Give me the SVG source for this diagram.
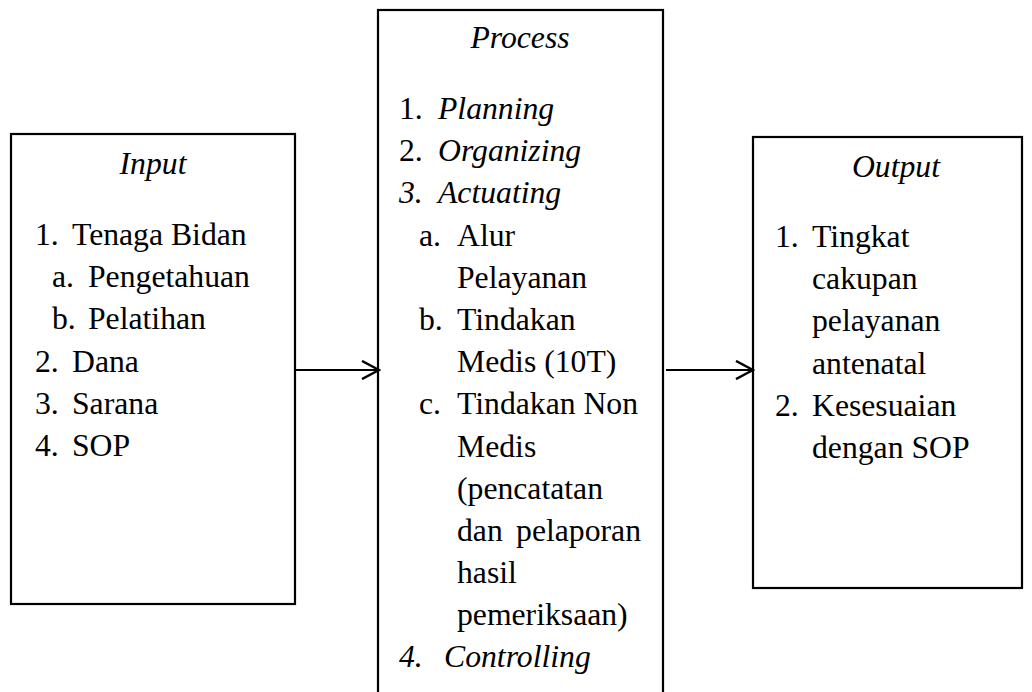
<svg xmlns="http://www.w3.org/2000/svg" width="1032" height="692" viewBox="0 0 1032 692">
<style>
.box{fill:#fff;stroke:#000;stroke-width:2.2}
.t{font-family:"Liberation Serif","Times New Roman",serif;font-size:31.7px;fill:#000}
.i{font-style:italic}
.c{text-anchor:middle}
.conn{stroke:#000;stroke-width:2.2;fill:none}
</style>
<defs>
<marker id="arr" viewBox="0 0 20 20" refX="18" refY="10" markerWidth="20" markerHeight="20" markerUnits="userSpaceOnUse" orient="auto">
<path d="M1,1 L18,10 L1,19" fill="none" stroke="#000" stroke-width="2.5"/>
</marker>
</defs>
<rect width="1032" height="692" fill="#fff"/>
<g id="input">
<rect class="box" x="11" y="134" width="284" height="470"/>
<text class="t i c" x="153" y="174">Input</text>
<text class="t" x="35" y="245">1.</text><text class="t" x="72" y="245">Tenaga Bidan</text>
<text class="t" x="52" y="287">a.</text><text class="t" x="88" y="287">Pengetahuan</text>
<text class="t" x="52" y="329">b.</text><text class="t" x="88" y="329">Pelatihan</text>
<text class="t" x="35" y="372">2.</text><text class="t" x="72" y="372">Dana</text>
<text class="t" x="35" y="414">3.</text><text class="t" x="72" y="414">Sarana</text>
<text class="t" x="35" y="456">4.</text><text class="t" x="72" y="456">SOP</text>
</g>
<g id="process">
<rect class="box" x="378" y="10" width="285" height="700"/>
<text class="t i c" x="520" y="48">Process</text>
<text class="t" x="399" y="119">1.</text><text class="t i" x="438" y="119">Planning</text>
<text class="t" x="399" y="161">2.</text><text class="t i" x="438" y="161">Organizing</text>
<text class="t i" x="399" y="203">3.</text><text class="t i" x="438" y="203">Actuating</text>
<text class="t" x="419" y="246">a.</text><text class="t" x="457" y="246">Alur</text>
<text class="t" x="457" y="288">Pelayanan</text>
<text class="t" x="419" y="330">b.</text><text class="t" x="457" y="330">Tindakan</text>
<text class="t" x="457" y="372">Medis (10T)</text>
<text class="t" x="419" y="414">c.</text><text class="t" x="457" y="414">Tindakan Non</text>
<text class="t" x="457" y="457">Medis</text>
<text class="t" x="457" y="499">(pencatatan</text>
<text class="t" x="457" y="541">dan</text><text class="t" x="641" y="541" text-anchor="end">pelaporan</text>
<text class="t" x="457" y="583">hasil</text>
<text class="t" x="457" y="625">pemeriksaan)</text>
<text class="t i" x="399" y="667">4.</text><text class="t i" x="444" y="667">Controlling</text>
</g>
<g id="output">
<rect class="box" x="753" y="137" width="269" height="451"/>
<text class="t i c" x="896" y="177">Output</text>
<text class="t" x="775" y="247">1.</text><text class="t" x="812" y="247">Tingkat</text>
<text class="t" x="812" y="289">cakupan</text>
<text class="t" x="812" y="331">pelayanan</text>
<text class="t" x="812" y="374">antenatal</text>
<text class="t" x="775" y="416">2.</text><text class="t" x="812" y="416">Kesesuaian</text>
<text class="t" x="812" y="458">dengan SOP</text>
</g>
<g id="connectors">
<line class="conn" x1="294" y1="370" x2="379" y2="370" marker-end="url(#arr)"/>
<line class="conn" x1="666" y1="370" x2="753" y2="370" marker-end="url(#arr)"/>
</g>
</svg>
